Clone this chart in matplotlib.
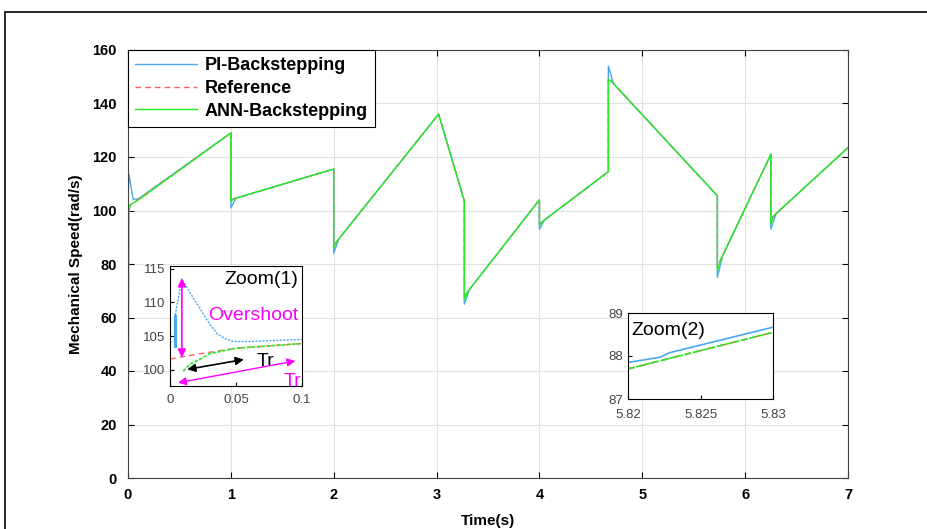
import matplotlib
matplotlib.use('Agg')
import matplotlib.pyplot as plt
from matplotlib.patches import Rectangle

plt.rcParams['font.family'] = ['Liberation Sans', 'DejaVu Sans']

# main traces (time in s, speed in rad/s)
t_pi = [0, 0, 0.01, 0.05, 0.1, 1.0, 1.0, 1.05, 2.0, 2.0, 2.05, 3.02, 3.27, 3.27, 3.32,
        4.0, 4.0, 4.05, 4.67, 4.67, 4.72, 5.73, 5.73, 5.78, 6.25, 6.25, 6.3, 7.0]
w_pi = [0, 104, 113.5, 104.2, 104.3, 129, 101, 104.6, 115.5, 84, 89.4, 136, 103.5, 65, 70.5,
        104, 93, 96.5, 114.5, 154, 147.4, 105.5, 75, 83, 121, 93, 98.8, 123.5]

t_ref = [0, 1, 1, 2, 2, 3.02, 3.27, 3.27, 4.0, 4.0, 4.67, 4.67, 5.73, 5.73, 6.25, 6.25, 7]
w_ref = [101.5, 129, 104, 115.5, 87, 136, 103.5, 68, 104, 95, 114.5, 149.5, 105.5, 79,
         121, 97, 123.5]

t_ann = [0, 0.01, 0.03, 0.1, 1.0, 1.0, 1.03, 2.0, 2.0, 2.03, 3.02, 3.27, 3.27, 3.3, 4.0, 4.0,
         4.03, 4.67, 4.67, 4.7, 5.73, 5.73, 5.76, 6.25, 6.25, 6.28, 7.0]
w_ann = [0, 100, 102.4, 103.9, 129, 103.5, 104.4, 115.5, 86, 88.4, 136, 103.5, 66.5, 69.5,
         104, 94.5, 95.9, 114.5, 149, 148.3, 105.5, 77.5, 81.4, 121, 95, 98.1, 123.5]

# zoom (1) : start-up
z1_t_pi = [0.0038, 0.0038, 0.009, 0.015, 0.023, 0.03, 0.036, 0.042, 0.048, 0.06, 0.1]
z1_w_pi = [103.5, 108, 113.5, 111.5, 109, 106.8, 105.3, 104.6, 104.2, 104.2, 104.5]
z1_t_ref = [0, 0.02, 0.05, 0.1]
z1_w_ref = [101.6, 102.3, 103.2, 103.9]
z1_t_ann = [0.01, 0.015, 0.023, 0.03, 0.05, 0.1]
z1_w_ann = [99.8, 100.8, 101.6, 102.4, 103.2, 103.9]

# zoom (2)
z2_t_pi = [5.82, 5.8222, 5.8229, 5.83]
z2_w_pi = [87.85, 87.97, 88.08, 88.67]
z2_t_ref = [5.82, 5.83]
z2_w_ref = [87.7, 88.55]
z2_t_ann = [5.82, 5.83]
z2_w_ann = [87.7, 88.55]

c_pi = '#4aa8f0'
c_ref = '#ff6060'
c_ann = '#22ee22'

fig = plt.figure(figsize=(9.27, 5.29), dpi=100)
fig.patches.append(Rectangle((5/927, -0.1), 1.5, 1 - 12/529 + 0.1, transform=fig.transFigure,
                             fill=False, edgecolor='black', linewidth=1.2))

ax = fig.add_axes([128/927, 51/529, 720/927, 428/529])
ax.plot(t_pi, w_pi, color=c_pi, lw=1.0, label='PI-Backstepping')
ax.plot(t_ref, w_ref, color=c_ref, lw=1.0, ls=(0, (4, 3)), label='Reference')
ax.plot(t_ann, w_ann, color=c_ann, lw=1.0, label='ANN-Backstepping')
ax.set_xlim(0, 7)
ax.set_ylim(0, 160)
ax.set_xticks(range(0, 8))
ax.set_yticks(range(0, 161, 20))
ax.grid(True, color='#e2e2e2', lw=0.8)
ax.tick_params(direction='in', top=True, right=True, labelsize=10.5, length=4)
ax.tick_params(axis='x', pad=7)
ax.tick_params(axis='y', pad=8)
for lab in ax.get_xticklabels() + ax.get_yticklabels():
    lab.set_fontweight('bold')
for s in ax.spines.values():
    s.set_color('#404040')
ax.set_xlabel('Time(s)', fontweight='bold', fontsize=11, labelpad=9)
ax.set_ylabel('Mechanical Speed(rad/s)', fontweight='bold', fontsize=11, labelpad=7)
leg = ax.legend(loc='upper left', prop={'weight': 'bold', 'size': 13}, fancybox=False,
                framealpha=1, edgecolor='black', borderaxespad=0, handlelength=3.4,
                borderpad=0.4, labelspacing=0.32, handletextpad=0.45)
leg.get_frame().set_linewidth(0.8)

# inset 1
a1 = fig.add_axes([170/927, 1 - 386/529, 132/927, 120/529])
a1.plot(z1_t_pi, z1_w_pi, color=c_pi, lw=1.0, ls=(0, (1.5, 1)))
a1.plot([0.0038, 0.0038], [103.5, 108], color=c_pi, lw=2.2)
a1.plot(z1_t_ref, z1_w_ref, color=c_ref, lw=1.0, ls=(0, (4, 3)))
a1.plot(z1_t_ann, z1_w_ann, color=c_ann, lw=1.2, ls=(0, (2, 1)))
a1.set_xlim(0, 0.1)
a1.set_ylim(97.6, 115.4)
a1.set_xticks([0, 0.05, 0.1])
a1.set_xticklabels(['0', '0.05', '0.1'])
a1.set_yticks([100, 105, 110, 115])
a1.tick_params(direction='in', labelsize=9.5, labelcolor='#444444', length=3)
a1.tick_params(axis='x', pad=6)
a1.annotate('', xy=(0.009, 114), xytext=(0.009, 101.4),
            arrowprops=dict(arrowstyle='<|-|>', color='magenta', lw=1.2, mutation_scale=12))
a1.text(0.063, 108.0, 'Overshoot', color='magenta', fontsize=14, ha='center', va='center')
a1.annotate('', xy=(0.058, 101.6), xytext=(0.011, 100),
            arrowprops=dict(arrowstyle='<|-|>', color='black', lw=1.2, mutation_scale=12))
a1.text(0.066, 101.3, 'Tr', color='black', fontsize=14, va='center')
a1.annotate('', xy=(0.097, 101.4), xytext=(0.004, 98.0),
            arrowprops=dict(arrowstyle='<|-|>', color='magenta', lw=1.0, mutation_scale=12))
a1.text(0.086, 98.3, 'Tr', color='magenta', fontsize=14, va='center', clip_on=True)
a1.text(0.097, 114.6, 'Zoom(1)', fontsize=14, ha='right', va='top')

# inset 2
a2 = fig.add_axes([628/927, 1 - 399/529, 145/927, 86/529])
a2.plot(z2_t_pi, z2_w_pi, color=c_pi, lw=1.2)
a2.plot(z2_t_ref, z2_w_ref, color=c_ref, lw=1.2, ls=(0, (4, 3)))
a2.plot(z2_t_ann, z2_w_ann, color=c_ann, lw=1.2, ls=(0, (4, 1)))
a2.set_xlim(5.82, 5.83)
a2.set_ylim(87, 89)
a2.set_xticks([5.82, 5.825, 5.83])
a2.set_xticklabels(['5.82', '5.825', '5.83'])
a2.set_yticks([87, 88, 89])
a2.tick_params(direction='in', labelsize=9.5, labelcolor='#444444', length=3)
a2.tick_params(axis='x', pad=7)
a2.text(5.8202, 88.8, 'Zoom(2)', fontsize=14, ha='left', va='top')

fig.savefig('out.png', dpi=100)
